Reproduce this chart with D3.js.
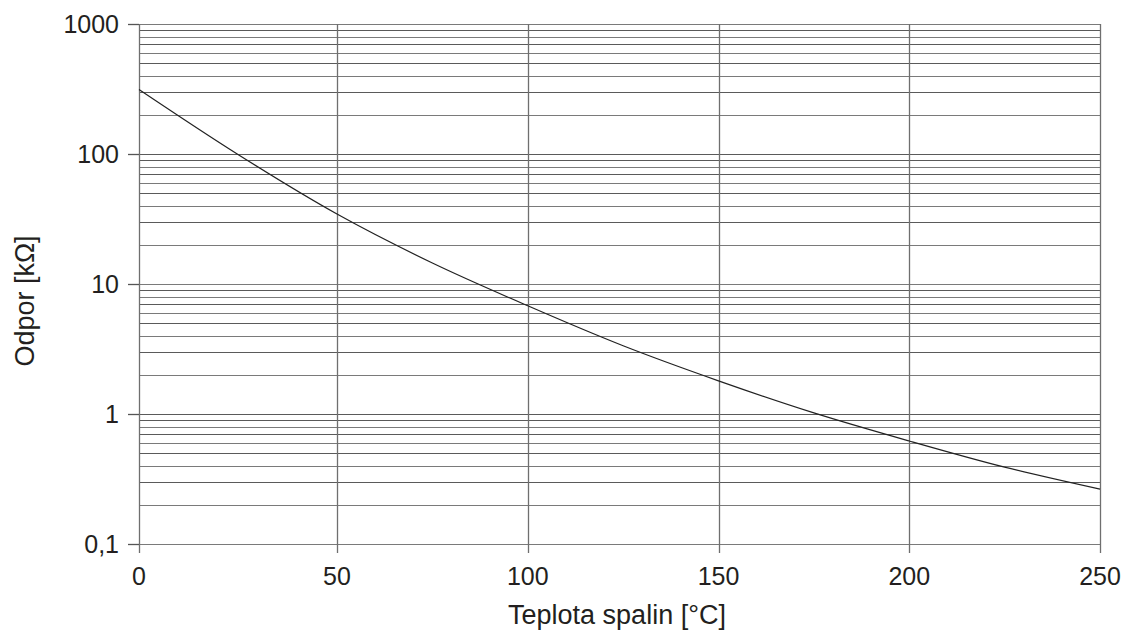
<!DOCTYPE html>
<html><head><meta charset="utf-8">
<script src="https://cdn.jsdelivr.net/npm/d3@7"></script>
<style>body{margin:0;background:#fff}</style>
</head><body>
<svg id="c" width="1127" height="632"></svg>
<script>
const temps = [0, 25, 50, 75, 100, 125, 150, 175, 200, 225, 250];
const resist = [313, 99, 34.5, 14.5, 6.8, 3.35, 1.8, 1.02, 0.62, 0.39, 0.264];
const xTicks = [0, 50, 100, 150, 200, 250];
const yTicks = [0.1, 1, 10, 100, 1000];
const yTickLabels = ["0,1", "1", "10", "100", "1000"];
const xTitle = "Teplota spalin [°C]";
const yTitle = "Odpor [kΩ]";

const svg = d3.select("#c");
const L = 139, R = 1100, T = 24, B = 544;
const x = d3.scaleLinear().domain([0, 50, 250]).range([L, 337, R]);
const y = d3.scaleLog().domain([0.1, 1000]).range([B, T]);
const font = "Liberation Sans, Arial, sans-serif";
const txt = "#231f20";

// minor horizontal grid
const minor = [];
for (let d = 0.1; d < 1000; d *= 10) for (let k = 2; k <= 9; k++) minor.push(+(d * k).toPrecision(3));
svg.append("g").selectAll("line").data(minor.concat(yTicks)).enter().append("line")
  .attr("x1", L).attr("x2", R).attr("y1", d => Math.round(y(d)) + 0.5).attr("y2", d => Math.round(y(d)) + 0.5)
  .attr("stroke", (d, i) => i % 2 ? "#5a5a5a" : "#7a7a7a").attr("stroke-width", 1.2);

// vertical grid
svg.append("g").selectAll("line").data(xTicks).enter().append("line")
  .attr("x1", d => Math.round(x(d)) + 0.5).attr("x2", d => Math.round(x(d)) + 0.5)
  .attr("y1", T).attr("y2", B + 9)
  .attr("stroke", "#6f6f6f").attr("stroke-width", 1.3);

// y ticks
svg.append("g").selectAll("line").data(yTicks).enter().append("line")
  .attr("x1", L - 11).attr("x2", L).attr("y1", d => Math.round(y(d)) + 0.5).attr("y2", d => Math.round(y(d)) + 0.5)
  .attr("stroke", "#555").attr("stroke-width", 1.3);

svg.append("g").selectAll("text").data(yTicks).enter().append("text")
  .attr("x", L - 20).attr("y", d => y(d) + 9)
  .attr("text-anchor", "end").attr("font-family", font).attr("font-size", 25).attr("fill", txt)
  .text((d, i) => yTickLabels[i]);

svg.append("g").selectAll("text").data(xTicks).enter().append("text")
  .attr("x", d => x(d)).attr("y", 585)
  .attr("text-anchor", "middle").attr("font-family", font).attr("font-size", 25).attr("fill", txt)
  .text(d => d);

svg.append("text").attr("x", 617).attr("y", 624)
  .attr("text-anchor", "middle").attr("font-family", font).attr("font-size", 27).attr("fill", txt)
  .text(xTitle);

svg.append("text").attr("transform", "translate(34,301) rotate(-90)")
  .attr("text-anchor", "middle").attr("font-family", font).attr("font-size", 27).attr("fill", txt)
  .text(yTitle);

// curve
const pts = temps.map((t, i) => [t, resist[i]]);
svg.append("path").datum(pts)
  .attr("d", d3.line().x(d => x(d[0])).y(d => y(d[1])).curve(d3.curveMonotoneX))
  .attr("fill", "none").attr("stroke", "#222").attr("stroke-width", 1.2);
</script>
</body></html>
